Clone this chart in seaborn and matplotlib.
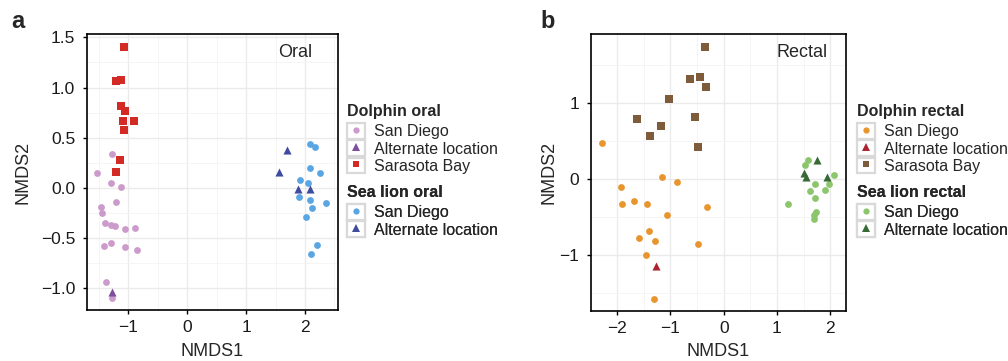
import matplotlib
matplotlib.use("Agg")
import matplotlib.pyplot as plt
import seaborn as sns
import pandas as pd
from matplotlib.patches import Rectangle
from matplotlib.lines import Line2D
from matplotlib.legend_handler import HandlerTuple
from matplotlib.ticker import MultipleLocator

# --- Oral NMDS ---
do_sd_x = [-1.27, -1.53, -1.29, -1.13, -1.20, -1.47, -1.45, -1.39, -1.29, -1.22, -1.05, -0.89, -1.41, -1.29, -1.06, -0.85, -1.37, -1.27]
do_sd_y = [0.34, 0.15, 0.05, 0.01, -0.14, -0.19, -0.25, -0.35, -0.37, -0.38, -0.41, -0.40, -0.58, -0.55, -0.59, -0.62, -0.94, -1.10]
do_alt_x = [-1.27]
do_alt_y = [-1.04]
do_sb_x = [-1.08, -1.12, -1.20, -1.13, -1.06, -1.09, -0.91, -1.08, -1.14, -1.20]
do_sb_y = [1.40, 1.07, 1.06, 0.82, 0.77, 0.67, 0.67, 0.58, 0.28, 0.16]
so_sd_x = [2.08, 2.17, 2.08, 2.26, 1.92, 2.05, 1.89, 2.08, 2.35, 2.12, 2.01, 2.20, 2.11]
so_sd_y = [0.44, 0.41, 0.20, 0.15, 0.08, 0.05, -0.09, -0.12, -0.15, -0.20, -0.29, -0.57, -0.66]
so_alt_x = [1.70, 1.56, 1.88, 2.08]
so_alt_y = [0.38, 0.16, -0.01, -0.01]

# --- Rectal NMDS ---
dr_sd_x = [-2.28, -1.15, -0.87, -1.92, -1.90, -1.68, -1.44, -0.31, -1.07, -1.40, -1.58, -1.28, -0.49, -1.46, -1.31]
dr_sd_y = [0.48, 0.02, -0.04, -0.11, -0.33, -0.29, -0.33, -0.37, -0.47, -0.69, -0.77, -0.81, -0.86, -1.00, -1.58]
dr_alt_x = [-1.27]
dr_alt_y = [-1.15]
dr_sb_x = [-0.36, -0.64, -0.45, -0.34, -1.03, -1.62, -0.54, -1.17, -1.39, -0.49]
dr_sb_y = [1.74, 1.32, 1.34, 1.21, 1.05, 0.79, 0.82, 0.70, 0.57, 0.42]
sr_sd_x = [1.20, 1.59, 1.52, 2.07, 1.97, 1.72, 1.62, 1.91, 1.72, 1.73, 1.69, 1.70]
sr_sd_y = [-0.33, 0.25, 0.19, 0.05, -0.07, -0.07, -0.16, -0.15, -0.25, -0.44, -0.47, -0.53]
sr_alt_x = [1.75, 1.50, 1.55, 1.93]
sr_alt_y = [0.25, 0.08, 0.02, 0.02]

group_labels = ["San Diego", "Alternate location", "Sarasota Bay"]

sns.set_style("white")
plt.rcParams['font.family'] = ['Liberation Sans', 'DejaVu Sans']
plt.rcParams['axes.unicode_minus'] = True

fig = plt.figure(figsize=(10.08, 3.61), dpi=100)
W, H = 1008, 361


def make_ax(l, r, t, b):
    return fig.add_axes([l / W, 1 - b / H, (r - l) / W, (b - t) / H])


def style_ax(ax, xlim, ylim, xmaj, ymaj, xmin, ymin):
    ax.set_xlim(*xlim)
    ax.set_ylim(*ylim)
    ax.xaxis.set_major_locator(MultipleLocator(xmaj))
    ax.yaxis.set_major_locator(MultipleLocator(ymaj))
    ax.xaxis.set_minor_locator(MultipleLocator(xmin))
    ax.yaxis.set_minor_locator(MultipleLocator(ymin))
    ax.grid(which='major', color='#EBEBEB', linewidth=1.0)
    ax.grid(which='minor', color='#F4F4F4', linewidth=0.6)
    ax.set_axisbelow(True)
    for s in ax.spines.values():
        s.set_color('black')
        s.set_linewidth(1.2)
    ax.tick_params(which='major', direction='out', length=3, width=1, color='black',
                   labelsize=12.5, labelcolor='#1a1a1a', bottom=True, left=True)
    ax.tick_params(axis='x', which='major', pad=4)
    ax.tick_params(axis='y', which='major', pad=5.5)
    ax.tick_params(which='minor', length=0)


def scatter(ax, x, y, color, marker, s):
    df = pd.DataFrame({'x': x, 'y': y})
    sns.scatterplot(data=df, x='x', y='y', ax=ax, color=color, marker=marker,
                    s=s, linewidth=0, legend=False, zorder=3)


def key(color, marker, ms):
    box = Rectangle((0, 0), 1, 1, facecolor='white', edgecolor='#D9D9D9', linewidth=1.6)
    mk = Line2D([], [], linestyle='none', marker=marker, color=color,
                markersize=ms, markeredgewidth=0)
    return (box, mk)


def add_legend(ax, title, handles, labels, x, y):
    leg = ax.legend(handles, labels, handler_map={tuple: HandlerTuple(ndivide=1, pad=0)},
                    title=title, loc='upper left', bbox_to_anchor=(x / W, 1 - y / H),
                    bbox_transform=fig.transFigure, frameon=False, borderpad=0,
                    handlelength=1.13, handleheight=1.13, handletextpad=0.55,
                    labelspacing=0.06, borderaxespad=0, alignment='left',
                    fontsize=11.5, title_fontproperties={'weight': 'bold', 'size': 11.5})
    # a little more room between the title and the keys, as in ggplot
    leg._legend_box.sep = 3
    ax.add_artist(leg)


# ---- Panel a ----
ax1 = make_ax(87, 338, 34, 310)
style_ax(ax1, (-1.70, 2.56), (-1.216, 1.533), 1, 0.5, 0.5, 0.25)
scatter(ax1, do_sd_x, do_sd_y, '#CC9ACB', 'o', 24)
scatter(ax1, do_alt_x, do_alt_y, '#7F4E9E', '^', 34)
scatter(ax1, do_sb_x, do_sb_y, '#D42A26', 's', 30)
scatter(ax1, so_sd_x, so_sd_y, '#5AA6E3', 'o', 24)
scatter(ax1, so_alt_x, so_alt_y, '#3F4C9E', '^', 34)
ax1.set_xlabel('NMDS1', fontsize=13)
ax1.set_ylabel('NMDS2', fontsize=13)
ax1.xaxis.set_label_coords(0.5, -0.12)
ax1.yaxis.set_label_coords(-0.223, 0.5)
ax1.text(0.831, 0.933, 'Oral', transform=ax1.transAxes, ha='center', va='center', fontsize=13)
fig.text(11 / W, 1 - 28 / H, 'a', fontsize=17, fontweight='bold', ha='left', va='baseline')

add_legend(ax1, 'Dolphin oral',
           [key('#CC9ACB', 'o', 4.5), key('#7F4E9E', '^', 5.5), key('#D42A26', 's', 5)],
           group_labels, 347, 104)
add_legend(ax1, 'Sea lion oral',
           [key('#5AA6E3', 'o', 4.5), key('#3F4C9E', '^', 5.5)],
           group_labels[:2], 347, 185)

# ---- Panel b ----
ax2 = make_ax(591, 846, 34, 311)
style_ax(ax2, (-2.49, 2.295), (-1.737, 1.908), 1, 1, 0.5, 0.5)
scatter(ax2, dr_sd_x, dr_sd_y, '#E8952E', 'o', 24)
scatter(ax2, dr_alt_x, dr_alt_y, '#AA2530', '^', 34)
scatter(ax2, dr_sb_x, dr_sb_y, '#7E5B3A', 's', 30)
scatter(ax2, sr_sd_x, sr_sd_y, '#8CC66C', 'o', 24)
scatter(ax2, sr_alt_x, sr_alt_y, '#386A36', '^', 34)
ax2.set_xlabel('NMDS1', fontsize=13)
ax2.set_ylabel('NMDS2', fontsize=13)
ax2.xaxis.set_label_coords(0.5, -0.115)
ax2.yaxis.set_label_coords(-0.133, 0.5)
ax2.text(0.828, 0.935, 'Rectal', transform=ax2.transAxes, ha='center', va='center', fontsize=13)
fig.text(540 / W, 1 - 28 / H, 'b', fontsize=17, fontweight='bold', ha='left', va='baseline')

add_legend(ax2, 'Dolphin rectal',
           [key('#E8952E', 'o', 4.5), key('#AA2530', '^', 5.5), key('#7E5B3A', 's', 5)],
           group_labels, 857, 104)
add_legend(ax2, 'Sea lion rectal',
           [key('#8CC66C', 'o', 4.5), key('#386A36', '^', 5.5)],
           group_labels[:2], 857, 185)

fig.savefig('out.png', dpi=100)
